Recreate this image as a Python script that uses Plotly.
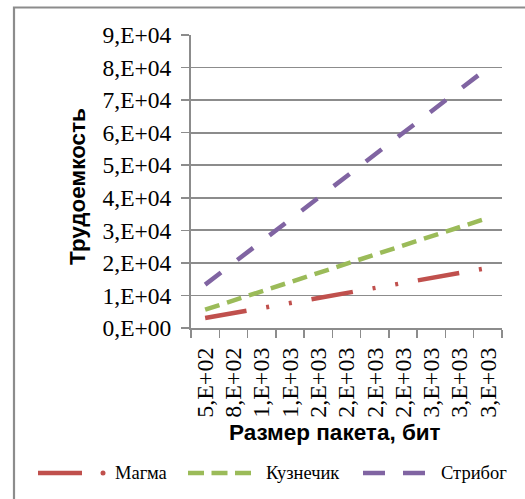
import plotly.graph_objects as go

# ---- data ----
packet_sizes = [512, 768, 1024, 1280, 1536, 1792, 2048, 2304, 2560, 2816, 3072]
x_labels = ["5,E+02", "8,E+02", "1,E+03", "1,E+03", "2,E+03", "2,E+03",
            "2,E+03", "2,E+03", "3,E+03", "3,E+03", "3,E+03"]
magma = [3072, 4608, 6144, 7680, 9216, 10752, 12288, 13824, 15360, 16896, 18432]
kuznechik = [5632, 8448, 11264, 14080, 16896, 19712, 22528, 25344, 28160, 30976, 33792]
stribog = [13312, 19968, 26624, 33280, 39936, 46592, 53248, 59904, 66560, 73216, 79872]
series_names = ["Магма", "Кузнечик", "Стрибог"]
y_ticks = [0, 10000, 20000, 30000, 40000, 50000, 60000, 70000, 80000, 90000]
y_labels = ["0,E+00", "1,E+04", "2,E+04", "3,E+04", "4,E+04",
            "5,E+04", "6,E+04", "7,E+04", "8,E+04", "9,E+04"]
x_title = "Размер пакета, бит"
y_title = "Трудоемкость"

# ---- styles ----
RED, GREEN, PURPLE = "#C0504D", "#9BBB59", "#8064A2"
GRAY = "#8C8C8C"
SERIF = "Liberation Serif, Times New Roman, serif"
SANS = "Liberation Sans, Arial, sans-serif"
W, H = 525, 499
ML, MR, MT, MB = 191, 23, 35, 171
PW, PH = W - ML - MR, H - MT - MB
LW = 4.5

def px(xp):
    return (xp - ML) / PW

def py(yp):
    return (H - MB - yp) / PH

dash_magma = "42px,20px,3px,20px,3px,20px"
dash_kuz = "15px,8px"
dash_strib = "20px,20.5px"

fig = go.Figure()
for name, vals, col, dash in [
    (series_names[0], magma, RED, dash_magma),
    (series_names[1], kuznechik, GREEN, dash_kuz),
    (series_names[2], stribog, PURPLE, dash_strib),
]:
    fig.add_trace(go.Scatter(x=packet_sizes, y=vals, mode="lines", name=name,
                             line=dict(color=col, width=LW, dash=dash),
                             showlegend=False, hoverinfo="skip"))

half = (packet_sizes[1] - packet_sizes[0]) / 2
fig.update_xaxes(
    range=[packet_sizes[0] - half, packet_sizes[-1] + half], automargin=False,
    tickmode="array", tickvals=packet_sizes, ticktext=x_labels,
    tickangle=-90, ticks="", showgrid=False, zeroline=False,
    showline=True, linecolor=GRAY, linewidth=2,
    tickfont=dict(family=SERIF, size=24, color="black"),
    ticklabelstandoff=8,
    minor=dict(tickmode="linear", tick0=packet_sizes[0] - half, dtick=2 * half,
               ticks="outside", ticklen=8, tickcolor=GRAY, tickwidth=1.5,
               showgrid=False),
)
fig.update_yaxes(
    range=[y_ticks[0], y_ticks[-1]], automargin=False, tickmode="array", tickvals=y_ticks,
    ticktext=y_labels, showgrid=True, gridcolor=GRAY, gridwidth=1.8,
    zeroline=False, showline=True, linecolor=GRAY, linewidth=2,
    ticks="outside", ticklen=8, tickcolor=GRAY, tickwidth=1.5,
    tickfont=dict(family=SERIF, size=23.5, color="black"),
    ticklabelstandoff=5,
)

shapes = [
    # chart-area border (cropped on right/bottom)
    dict(type="rect", xref="paper", yref="paper", x0=px(14), x1=px(560),
         y0=py(560), y1=py(7.5), line=dict(color=GRAY, width=2.2),
         fillcolor="rgba(0,0,0,0)", layer="below"),
    # legend samples
    dict(type="line", xref="paper", yref="paper", x0=px(38), x1=px(82),
         y0=py(473), y1=py(473), line=dict(color=RED, width=LW)),
    dict(type="circle", xref="paper", yref="paper", x0=px(100.5), x1=px(105.5),
         y0=py(475.5), y1=py(470.5), line=dict(color=RED, width=0), fillcolor=RED),
    dict(type="line", xref="paper", yref="paper", x0=px(188), x1=px(251),
         y0=py(473), y1=py(473), line=dict(color=GREEN, width=LW, dash="16px,7.5px")),
    dict(type="line", xref="paper", yref="paper", x0=px(363), x1=px(425),
         y0=py(473), y1=py(473), line=dict(color=PURPLE, width=LW, dash="22px,18px")),
]

annotations = [
    dict(text=y_title, xref="paper", yref="paper", x=px(78), y=py(187),
         xanchor="center", yanchor="middle", textangle=-90, showarrow=False,
         font=dict(family=SANS, size=22.5, color="black", weight="bold")),
    dict(text=x_title, xref="paper", yref="paper", x=px(335), y=py(432),
         xanchor="center", yanchor="middle", showarrow=False,
         font=dict(family=SANS, size=22.5, color="black", weight="bold")),
]
for name, xl in zip(series_names, [113, 264, 439]):
    annotations.append(dict(text=name, xref="paper", yref="paper", x=px(xl), y=py(473),
                            xanchor="left", yanchor="middle", showarrow=False,
                            font=dict(family=SERIF, size=18.5, color="black")))

fig.update_layout(
    width=W, height=H, margin=dict(l=ML, r=MR, t=MT, b=MB),
    paper_bgcolor="white", plot_bgcolor="white",
    shapes=shapes, annotations=annotations, showlegend=False, hovermode=False,
)

fig.write_html("out.html", config={"displayModeBar": False, "staticPlot": True},
               post_script="document.body.style.margin='0';document.body.style.overflow='hidden';")
